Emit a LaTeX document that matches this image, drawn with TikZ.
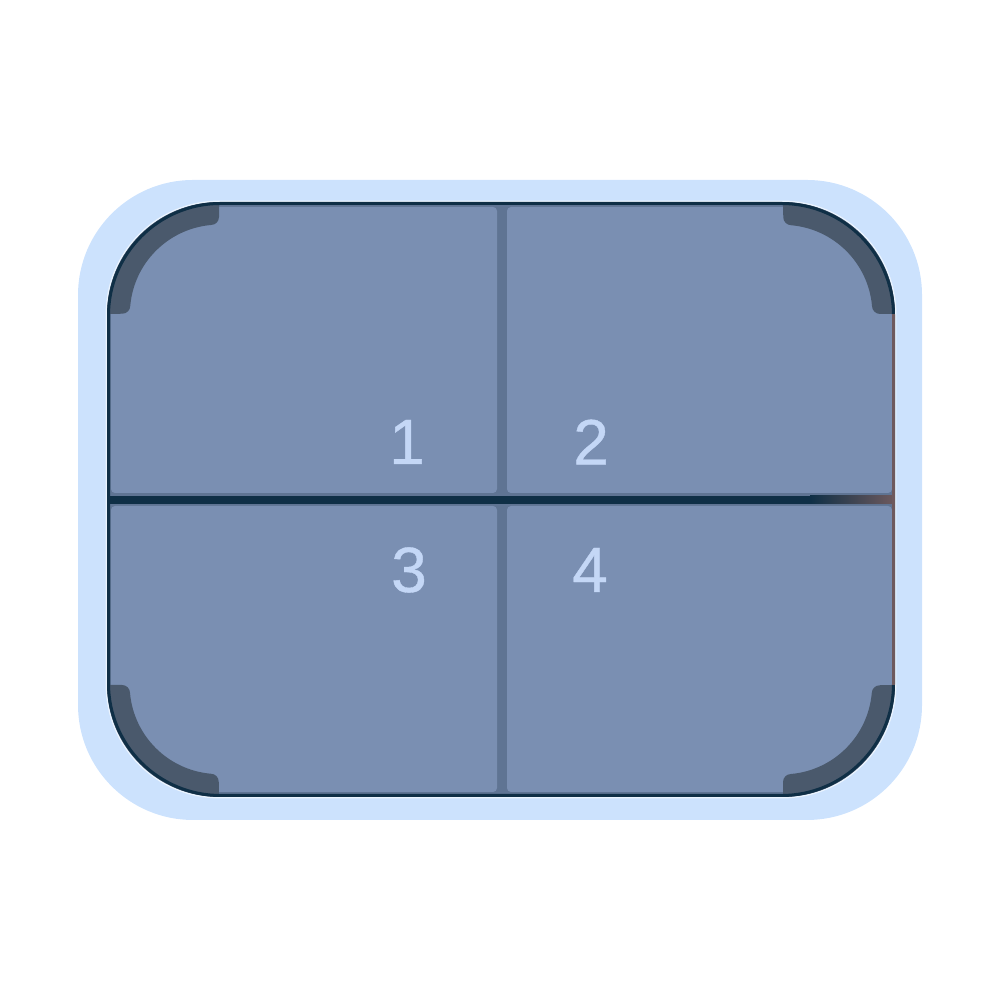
\documentclass[tikz,border=0pt]{standalone}
\usepackage{fontspec}
\setmainfont[FakeBold=0.6]{Liberation Sans}
\definecolor{traylight}{HTML}{CCE2FD}
\definecolor{traygap}{HTML}{5F7493}
\definecolor{trayfill}{HTML}{7A8FB2}
\definecolor{trayedge}{HTML}{0F2F46}
\definecolor{traybrown}{HTML}{6E5A5E}
\definecolor{trayband}{HTML}{4A596C}
\definecolor{traydigit}{HTML}{C4D7F6}
\begin{document}
\begin{tikzpicture}[
    quadrant/.style={fill=trayfill,rounded corners=0.04cm},
    cornerband/.style={fill=trayband},
    digit/.style={text=traydigit,inner sep=0pt,font=\fontsize{18.2}{20}\selectfont}]
      \useasboundingbox (0,0) rectangle (10,10);%

      \fill[traylight,rounded corners=1.15cm] (0.78,1.80) rectangle (9.22,8.20);%
      \fill[traygap,rounded corners=1.12cm] (1.07,2.03) rectangle (8.95,7.98);%

      \begin{scope}
        \clip[rounded corners=1.12cm] (1.07,2.03) rectangle (8.95,7.98);%
        \fill[quadrant] (1.11,5.07) rectangle (4.97,7.93);%
        \fill[quadrant] (5.07,5.07) rectangle (8.92,7.93);%
        \fill[quadrant] (1.11,2.08) rectangle (4.97,4.94);%
        \fill[quadrant] (5.07,2.08) rectangle (8.92,4.94);%

        \fill[trayedge] (1.07,4.96) rectangle (8.10,5.04);%
        \fill[left color=trayedge,right color=traybrown] (8.10,4.96) rectangle (8.95,5.04);%
      \end{scope}

      \fill[cornerband,shift={(2.19,6.86)},rotate=0] (-1.12,0) arc[start angle=180,end angle=90,radius=1.12]
        -- (0,0.97) arc[start angle=0,end angle=-90,radius=0.08]
        arc[start angle=95.1,end angle=174.9,radius=0.89]
        arc[start angle=0,end angle=-90,radius=0.08] -- cycle;%
      \fill[cornerband,shift={(7.83,6.86)},rotate=-90] (-1.12,0) arc[start angle=180,end angle=90,radius=1.12]
        -- (0,0.97) arc[start angle=0,end angle=-90,radius=0.08]
        arc[start angle=95.1,end angle=174.9,radius=0.89]
        arc[start angle=0,end angle=-90,radius=0.08] -- cycle;%
      \fill[cornerband,shift={(2.19,3.15)},rotate=90] (-1.12,0) arc[start angle=180,end angle=90,radius=1.12]
        -- (0,0.97) arc[start angle=0,end angle=-90,radius=0.08]
        arc[start angle=95.1,end angle=174.9,radius=0.89]
        arc[start angle=0,end angle=-90,radius=0.08] -- cycle;%
      \fill[cornerband,shift={(7.83,3.15)},rotate=180] (-1.12,0) arc[start angle=180,end angle=90,radius=1.12]
        -- (0,0.97) arc[start angle=0,end angle=-90,radius=0.08]
        arc[start angle=95.1,end angle=174.9,radius=0.89]
        arc[start angle=0,end angle=-90,radius=0.08] -- cycle;%

      \draw[white!60!traylight,line width=0.012cm,rounded corners=1.13cm] (1.062,2.022) rectangle (8.958,7.988);%
      \draw[trayedge,line width=0.03cm,rounded corners=1.12cm] (1.085,2.045) rectangle (8.935,7.965);%
      \draw[traybrown,line width=0.03cm] (8.935,3.15) -- (8.935,6.86);%

      \node[digit] (N1) at (4.07,5.58) {1};%
      \node[digit] (N2) at (5.91,5.58) {2};%
      \node[digit] (N3) at (4.09,4.30) {3};%
      \node[digit] (N4) at (5.90,4.30) {4};%
    \end{tikzpicture}
\end{document}
